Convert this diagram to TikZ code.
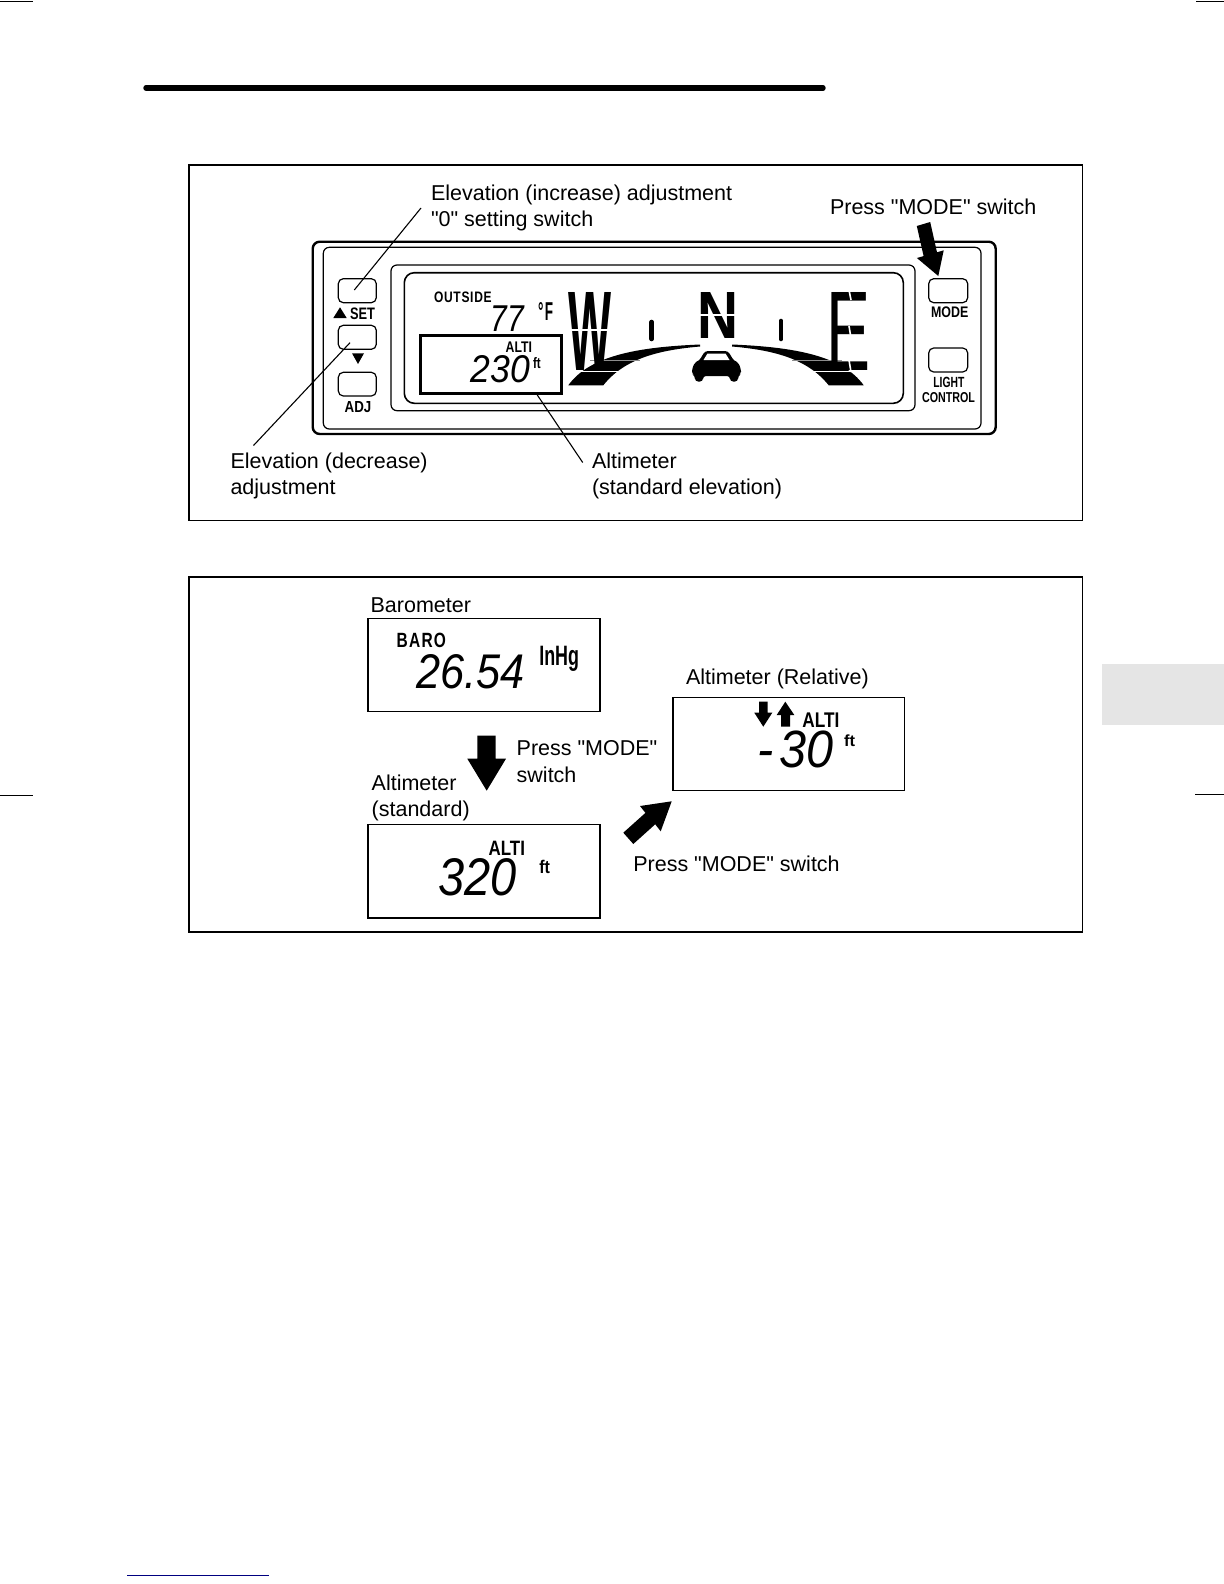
\documentclass[tikz,border=0pt]{standalone}
\usepackage{fontspec}
\usepackage{graphicx}
\setmainfont{Liberation Sans}
\newfontfamily\plainlabel{Liberation Sans}
\newcommand{\fitlabel}[6]{%
  \pgfmathsetlengthmacro\fitw{(#4-#2)*0.5pt}%
  \pgfmathsetlengthmacro\fith{(#5-#3)*0.5pt}%
  \node[fitted] (#1) at (#2,#5) {\resizebox{\fitw}{\fith}{#6}};%
}
\tikzset{
  fitted/.style={anchor=south west,inner sep=0pt,outer sep=0pt},
  lab/.style={anchor=base west,inner sep=0pt,outer sep=0pt,font=\plainlabel\fontsize{10.75}{12}\selectfont},
  frame/.style={draw=black,line width=0.85pt},
  lcdbox/.style={draw=black,line width=0.8pt},
  thinround/.style={draw=black,line width=0.6pt,rounded corners=3pt},
  btn/.style={draw=black,line width=0.6pt,rounded corners=2.5pt},
  leader/.style={draw=black,line width=0.55pt},
  solid arrow/.style={fill=black,draw=none},
  slit/.style={draw=white,line width=0.8pt}
}
\begin{document}
\begin{tikzpicture}[x=0.5pt,y=-0.5pt]
\useasboundingbox (0,0) rectangle (1224,1584);
% page furniture
\fill[fill=black!10] (1102,664) rectangle (1224,725);
\draw[black,line width=0.5pt] (0,2) -- (33,2);
\draw[black,line width=0.5pt] (1196,2) -- (1224,2);
\draw[black,line width=0.5pt] (0,795) -- (33,795);
\draw[black,line width=0.5pt] (1195,794.5) -- (1224,794.5);
\draw[black,line width=2.7pt,line cap=round] (146,88) -- (823,88);
\draw[blue!50!black,line width=0.5pt] (127,1575) -- (269,1575);
% panels
\draw[frame] (189,165) rectangle (1082.5,520.5);
\draw[frame] (189,577) rectangle (1082.5,932);
% device
\draw[draw=black,line width=1.2pt,rounded corners=3.5pt] (312.7,241.7) rectangle (995.7,434);
\draw[thinround] (323.3,247.3) rectangle (981,429);
\draw[thinround] (391,265) rectangle (915,410.7);
\draw[draw=black,line width=0.8pt,rounded corners=5pt] (404.3,272.7) rectangle (903.3,403.3);
% buttons
\draw[btn] (338.3,278.7) rectangle (376.3,302.7);
\draw[btn] (338.3,325.3) rectangle (376.3,349.3);
\draw[btn] (338.3,372.3) rectangle (376.3,396);
\draw[btn] (928.7,278.7) rectangle (967.7,302.7);
\draw[btn] (928.7,348) rectangle (967.7,372);
\fill (333.3,318) -- (340,307.3) -- (346.7,318) -- cycle;
\fill (352,353.3) -- (364,353.3) -- (358,364) -- cycle;
\fitlabel{setlab}{350}{307.7}{375}{319.3}{\bfseries SET}
\fitlabel{adjlab}{344.7}{401.7}{371.3}{412.7}{\bfseries ADJ}
\fitlabel{modelab}{931}{307.3}{968.3}{318}{\bfseries MODE}
\fitlabel{lightlab}{933.3}{377.7}{964.3}{388}{\bfseries LIGHT}
\fitlabel{controllab}{922}{392.3}{975}{402.3}{\bfseries CONTROL}
% display read-outs
\draw[draw=black,line width=1.5pt] (420,335.7) rectangle (561.7,393.3);
\fitlabel{outside}{434}{291.7}{491.7}{302.3}{\bfseries O\hspace{0.06em}U\hspace{0.06em}T\hspace{0.06em}S\hspace{0.06em}I\hspace{0.06em}D\hspace{0.06em}E}
\fitlabel{temp}{490.7}{306}{524}{331.7}{\itshape 77}
\fitlabel{degf}{538}{302.7}{553}{320.7}{\bfseries °\hspace{0.1em}F}
\fitlabel{altione}{505.7}{341.7}{532}{352.3}{\bfseries ALTI}
\fitlabel{altval}{470.7}{356}{530}{383}{\itshape 230}
\fitlabel{ftone}{533}{358}{540.7}{369}{\bfseries ft}
% road arcs
\foreach \shiftx/\flip in {0/1,1432/-1}{
\begin{scope}[shift={(\shiftx,0)},xscale=\flip]
\fill (568.3,385.3) .. controls (590,355) and (640,347) .. (700,344.5)
  -- (700,346.5) .. controls (660,350) and (625,358) .. (603.3,385.3) -- cycle;
\draw[white,line width=0.5pt] (575,371) -- (625,371);
\draw[black!45,line width=0.5pt] (590,360.5) -- (640,360.5);
\end{scope}
}
% compass letters
\fitlabel{compw}{568}{292}{611}{370}{\bfseries W}
\fitlabel{compn}{697}{292}{738}{338}{\bfseries N}
\fitlabel{compe}{826}{292}{870}{370}{E}
\draw[slit] (566,330) -- (613,330);
\draw[slit] (695,315) -- (740,315);
\draw[slit] (849,290) -- (851,300);
\draw[slit] (849,326) -- (851,338);
\draw[slit] (849,360) -- (851,372);
% compass ticks
\draw[black,line width=2.3pt,line cap=round] (651.7,322) -- (651.7,339);
\draw[black,line width=2.3pt,line cap=round] (781,321) -- (781,339);
% car
\fill[rounded corners=1.5pt] (692,369) -- (695,362) -- (699,361) -- (705,351) -- (728,351) -- (734,361) -- (738,362) -- (741,369)
  -- (741,374) -- (738,376) -- (738,381.5) -- (730,381.5) -- (730,376) -- (703,376) -- (703,381.5)
  -- (695,381.5) -- (695,376) -- (692,374) -- cycle;
\fill[white] (703.5,360) -- (707.5,353.5) -- (725.5,353.5) -- (729.5,360) -- cycle;
% top-panel labels
\node[lab] (elevup) at (431,200) {Elevation (increase) adjustment};
\node[lab] (elevup2) at (431,226) {"0" setting switch};
\node[lab] (pressone) at (830,214) {Press "MODE" switch};
\node[lab] (elevdown) at (230.5,468.5) {Elevation (decrease)};
\node[lab] (elevdown2) at (230.5,494) {adjustment};
\node[lab] (altistd) at (592,468.5) {Altimeter};
\node[lab] (altistd2) at (592,494) {(standard elevation)};
% leaders
\coordinate (lu1) at (421,208); \coordinate (lu2) at (354.3,290);
\coordinate (ld1) at (253.5,445.5); \coordinate (ld2) at (350,342.7);
\coordinate (la1) at (537.3,395); \coordinate (la2) at (582.7,462.5);
\draw[leader] (lu1) -- (lu2);
\draw[leader] (ld1) -- (ld2);
\draw[leader] (la1) -- (la2);
% mode arrow
\fill[solid arrow] (916.8,226) -- (930.2,222) -- (937,252.3) -- (943.7,250.3) -- (938.3,276) -- (916.9,258) -- (923.6,256.1) -- cycle;
% lower panel
\node[lab] (baro) at (370.6,612) {Barometer};
\draw[lcdbox] (367.7,618.3) rectangle (599.7,711.3);
\fitlabel{barolab}{396.7}{633.3}{446}{647.7}{\bfseries B\hspace{0.08em}A\hspace{0.08em}R\hspace{0.08em}O}
\fitlabel{baroval}{416.7}{655}{525}{689}{\itshape 26.54}
\fitlabel{inhg}{539.3}{651.7}{579}{671}{\bfseries InHg}
\fill[solid arrow] (477.3,735.7) -- (495.7,735.7) -- (495.7,758.7) -- (506,758.7) -- (486.7,790.7) -- (467.3,758.7) -- (477.3,758.7) -- cycle;
\node[lab] (presstwo) at (516.7,755.3) {Press "MODE"};
\node[lab] (presstwob) at (516.7,782.5) {switch};
\node[lab] (altstd) at (371.7,790) {Altimeter};
\node[lab] (altstdb) at (371.7,816) {(standard)};
\draw[lcdbox] (367.7,824.3) rectangle (600,917.7);
\fitlabel{altitwo}{488.7}{840.7}{525}{855}{\bfseries ALTI}
\fitlabel{altitwoval}{438.3}{859}{516.7}{896}{\itshape 320}
\fitlabel{fttwo}{539.3}{860.7}{550}{874}{\bfseries ft}
\fill[solid arrow] (671.7,801.3) -- (660.7,831.3) -- (655.2,824.3) -- (633.3,844) -- (623.3,832.7) -- (645.4,812.9) -- (640,806) -- cycle;
\node[lab] (pressthree) at (633.3,871.5) {Press "MODE" switch};
\node[lab] (altrel) at (686,684.3) {Altimeter (Relative)};
\draw[lcdbox] (672.7,697.3) rectangle (904.3,790.3);
\fill[solid arrow] (759,701.7) -- (767.7,701.7) -- (767.7,712.7) -- (772.3,712.7) -- (763.3,726.7) -- (754.3,712.7) -- (759,712.7) -- cycle;
\fill[solid arrow] (785.3,701.7) -- (794.3,715) -- (790,715) -- (790,726.7) -- (781,726.7) -- (781,715) -- (776.7,715) -- cycle;
\fitlabel{altithree}{802.3}{712.7}{839.3}{727.3}{\bfseries ALTI}
\fitlabel{altithreeval}{757.3}{731.7}{833.3}{768.3}{\itshape -\hspace{0.12em}30}
\fitlabel{ftthree}{844}{735}{855}{746.7}{\bfseries ft}
\end{tikzpicture}
\end{document}
